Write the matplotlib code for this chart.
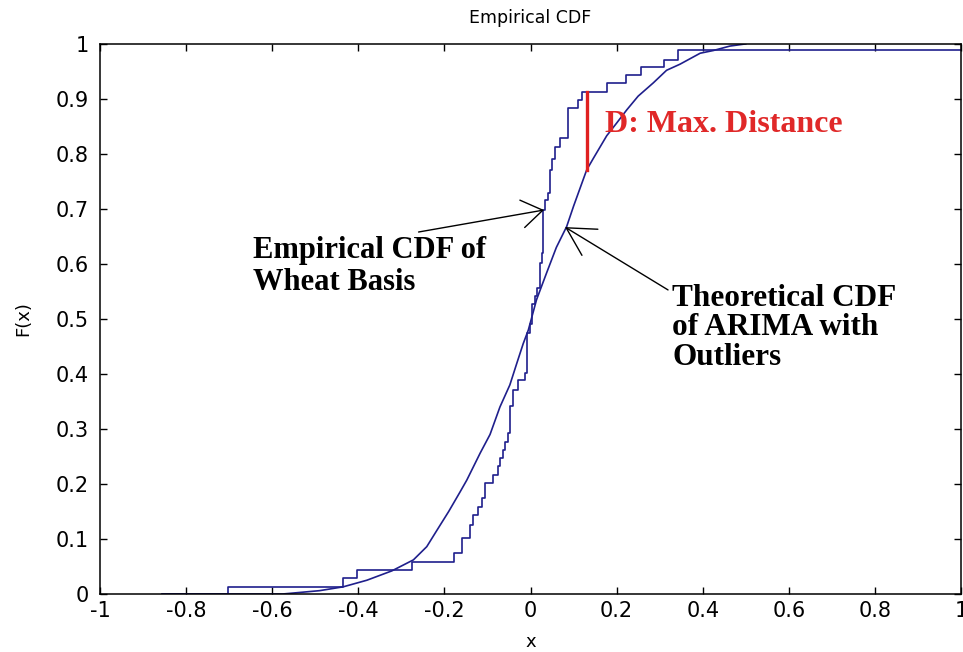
import numpy as np
import matplotlib
matplotlib.use("Agg")
import matplotlib.pyplot as plt

# Empirical CDF (stairs): jump positions and level after each jump
emp_x = [-0.855, -0.702, -0.436, -0.404, -0.276, -0.178, -0.160, -0.140, -0.133,
         -0.122, -0.113, -0.106, -0.086, -0.075, -0.071, -0.063, -0.059, -0.052,
         -0.048, -0.040, -0.028, -0.013, -0.009, -0.001, 0.003, 0.010, 0.014,
         0.022, 0.026, 0.030, 0.034, 0.041, 0.045, 0.050, 0.057, 0.068, 0.088,
         0.111, 0.119, 0.177, 0.222, 0.256, 0.310, 0.343, 1.0]
emp_F = [0.0, 0.0135, 0.0285, 0.0436, 0.0588, 0.074, 0.101, 0.125, 0.144,
         0.159, 0.174, 0.201, 0.216, 0.232, 0.247, 0.262, 0.277, 0.292,
         0.341, 0.371, 0.389, 0.401, 0.474, 0.490, 0.528, 0.541, 0.556,
         0.601, 0.620, 0.698, 0.716, 0.729, 0.771, 0.790, 0.813, 0.829, 0.883,
         0.898, 0.913, 0.929, 0.944, 0.958, 0.970, 0.989, 0.989]

# Theoretical CDF (ARIMA with outliers)
theo_x = [-0.855, -0.575, -0.49, -0.435, -0.38, -0.322, -0.272, -0.241, -0.218,
          -0.190, -0.164, -0.148, -0.117, -0.094, -0.071, -0.048, -0.032, -0.017,
          -0.005, 0.014, 0.038, 0.060, 0.084, 0.100, 0.1305, 0.146, 0.177, 0.200,
          0.2235, 0.250, 0.285, 0.316, 0.347, 0.394, 0.425, 0.463, 0.500]
theo_F = [0.0, 0.0, 0.006, 0.013, 0.025, 0.042, 0.062, 0.086, 0.115,
          0.150, 0.185, 0.207, 0.256, 0.290, 0.340, 0.380, 0.419, 0.455,
          0.480, 0.535, 0.585, 0.630, 0.668, 0.705, 0.771, 0.792, 0.833, 0.856,
          0.880, 0.905, 0.929, 0.952, 0.963, 0.983, 0.988, 0.996, 1.0]

# Max distance D
d_x = 0.1305
d_low, d_high = 0.771, 0.913

xticks = [-1, -0.8, -0.6, -0.4, -0.2, 0, 0.2, 0.4, 0.6, 0.8, 1]
xlabels = ["-1", "-0.8", "-0.6", "-0.4", "-0.2", "0", "0.2", "0.4", "0.6", "0.8", "1"]
yticks = [0, 0.1, 0.2, 0.3, 0.4, 0.5, 0.6, 0.7, 0.8, 0.9, 1]
ylabels = ["0", "0.1", "0.2", "0.3", "0.4", "0.5", "0.6", "0.7", "0.8", "0.9", "1"]

line_col = "#1f1f8c"

fig = plt.figure(figsize=(9.63, 6.52), dpi=100)
ax = fig.add_axes([0.1038, 0.089, 0.8942, 0.8437])

ax.step(emp_x, emp_F, where="post", color=line_col, lw=1.2)
ax.plot(theo_x, theo_F, color=line_col, lw=1.2)
ax.plot([d_x, d_x], [d_low, d_high], color="#e02020", lw=2.4)

ax.set_xlim(-1, 1)
ax.set_ylim(0, 1)
ax.set_xticks(xticks)
ax.set_xticklabels(xlabels)
ax.set_yticks(yticks)
ax.set_yticklabels(ylabels)
ax.tick_params(direction="in", length=5, width=1, top=True, right=True,
               labelsize=15)
ax.tick_params(axis="y", pad=8)
ax.tick_params(axis="x", pad=5)
for s in ax.spines.values():
    s.set_linewidth(1.1)

ax.set_title("Empirical CDF", fontsize=12.5, pad=15)
ax.set_xlabel("x", fontsize=13, labelpad=9)
ax.set_ylabel("F(x)", fontsize=13, labelpad=17)

serif = "Liberation Serif"
ax.text(-0.645, 0.5955, "Empirical CDF of\nWheat Basis", family=serif,
        weight="bold", fontsize=22, va="center", ha="left", linespacing=1.15)
ax.text(0.3287, 0.4836, "Theoretical CDF\nof ARIMA with\nOutliers", family=serif,
        weight="bold", fontsize=22.5, va="center", ha="left", linespacing=1.03)
ax.text(0.173, 0.8527, "D: Max. Distance", family=serif, weight="bold",
        fontsize=23, color="#e02828", va="center", ha="left")

ax.annotate("", xy=(0.0314, 0.698), xytext=(-0.26, 0.658),
            arrowprops=dict(arrowstyle="->,head_length=0.75,head_width=0.5",
                            mutation_scale=20, color="black", lw=1.0,
                            shrinkA=0, shrinkB=0))
ax.annotate("", xy=(0.080, 0.667), xytext=(0.3194, 0.5527),
            arrowprops=dict(arrowstyle="->,head_length=1.0,head_width=0.55",
                            mutation_scale=20, color="black", lw=1.0,
                            shrinkA=0, shrinkB=0))

fig.savefig("out.png", dpi=100)
